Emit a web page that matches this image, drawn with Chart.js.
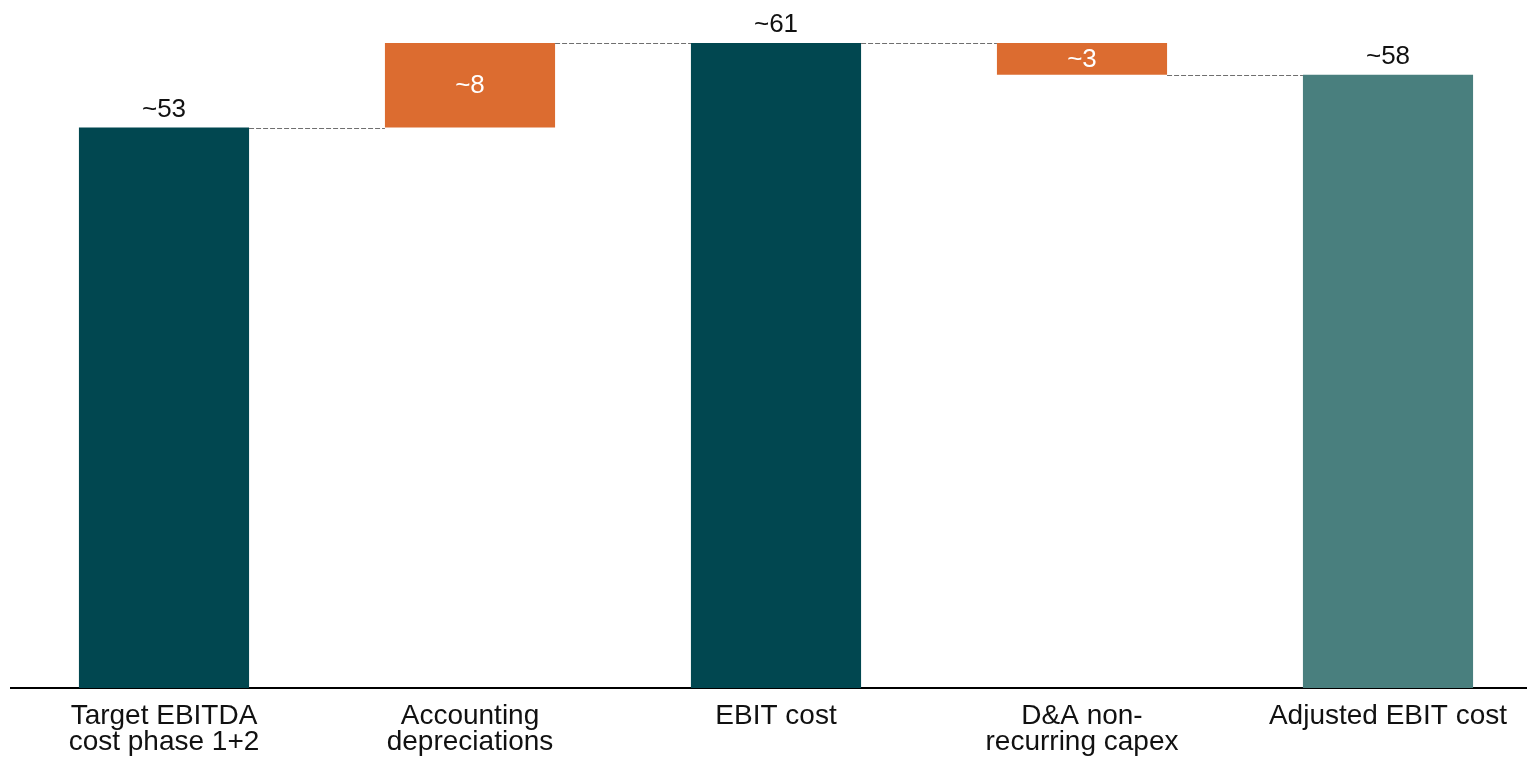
<!DOCTYPE html>
<html>
<head>
  <meta charset="utf-8">
  <title>EBIT cost bridge</title>
  <script src="https://cdn.jsdelivr.net/npm/chart.js"></script>
  <style>
    html, body { margin: 0; padding: 0; overflow: hidden; background: #fff; }
    #wrap { width: 1545px; height: 758px; }
  </style>
</head>
<body>
  <div id="wrap"><canvas id="chart"></canvas></div>

  <script>
    const labels = [
      ['Target EBITDA', 'cost phase 1+2'],
      ['Accounting', 'depreciations'],
      'EBIT cost',
      ['D&A non-', 'recurring capex'],
      'Adjusted EBIT cost'
    ];
    const values = [53, 8, 61, -3, 58];
    const kinds = ['total', 'delta', 'total', 'delta', 'total'];
    const valueText = ['~53', '~8', '~61', '~3', '~58'];
    const colors = ['#014750', '#DC6C30', '#014750', '#DC6C30', '#497F7E'];

    // floating ranges for the waterfall
    const ranges = [];
    let level = 0;
    values.forEach((v, i) => {
      if (kinds[i] === 'total') {
        ranges.push([0, v]);
        level = v;
      } else {
        ranges.push([level, level + v]);
        level += v;
      }
    });

    const bridge = {
      id: 'bridge',
      afterDatasetsDraw(chart) {
        const ctx = chart.ctx;
        const y = chart.scales.y;
        const bars = chart.getDatasetMeta(0).data;
        ctx.save();

        // dashed connectors between bar ends
        ctx.strokeStyle = '#6f6f6f';
        ctx.lineWidth = 1;
        ctx.setLineDash([5, 2]);
        for (let i = 0; i < bars.length - 1; i++) {
          const py = Math.round(y.getPixelForValue(ranges[i][1])) + 0.5;
          const a = bars[i], b = bars[i + 1];
          ctx.beginPath();
          ctx.moveTo(a.x + a.width / 2, py);
          ctx.lineTo(b.x - b.width / 2, py);
          ctx.stroke();
        }
        ctx.setLineDash([]);

        // value labels
        ctx.font = '26px "Liberation Sans", Arial, sans-serif';
        ctx.textAlign = 'center';
        bars.forEach((bar, i) => {
          const r = ranges[i];
          if (kinds[i] === 'total') {
            ctx.fillStyle = '#111';
            ctx.textBaseline = 'alphabetic';
            ctx.fillText(valueText[i], bar.x, y.getPixelForValue(Math.max(r[0], r[1])) - 11);
          } else {
            ctx.fillStyle = '#fff';
            ctx.textBaseline = 'middle';
            const mid = (y.getPixelForValue(r[0]) + y.getPixelForValue(r[1])) / 2;
            ctx.fillText(valueText[i], bar.x, mid + 1);
          }
        });
        ctx.restore();
      }
    };

    new Chart(document.getElementById('chart'), {
      type: 'bar',
      data: {
        labels: labels,
        datasets: [{
          data: ranges,
          backgroundColor: colors,
          borderWidth: 0,
          categoryPercentage: 1,
          barPercentage: 0.556
        }]
      },
      options: {
        responsive: true,
        maintainAspectRatio: false,
        animation: false,
        layout: { padding: { left: 11, right: 4, top: 0, bottom: 0 } },
        plugins: {
          legend: { display: false },
          tooltip: { enabled: false }
        },
        scales: {
          x: {
            grid: { display: false },
            border: { display: true, color: '#000', width: 2 },
            ticks: {
              color: '#111',
              padding: 8,
              maxRotation: 0,
              autoSkip: false,
              font: { family: '"Liberation Sans", Arial, sans-serif', size: 28, lineHeight: 0.9 }
            },
            afterFit(scale) { scale.height = 70; }
          },
          y: {
            display: false,
            min: 0,
            max: 65.07
          }
        }
      },
      plugins: [bridge]
    });
  </script>
</body>
</html>
